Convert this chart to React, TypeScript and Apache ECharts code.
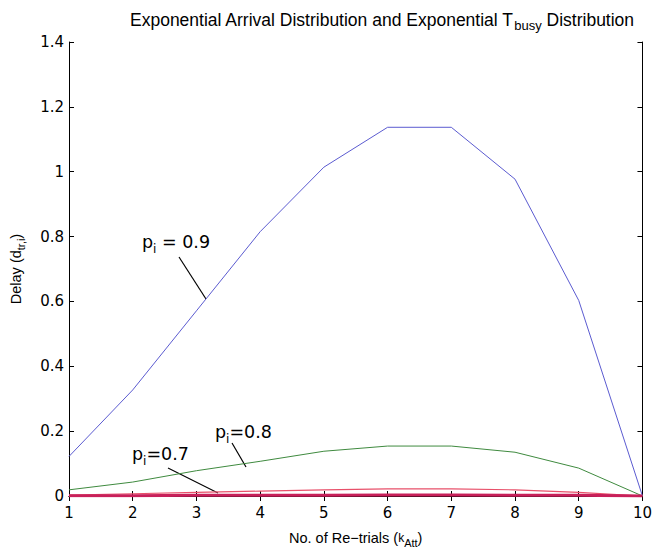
import { useEffect, useRef } from "react";
import * as echarts from "echarts";

const retrials = [1, 2, 3, 4, 5, 6, 7, 8, 9, 10];
const delayP09 = [0.122, 0.327, 0.571, 0.815, 1.014, 1.137, 1.137, 0.977, 0.603, 0];
const delayP08 = [0.019, 0.043, 0.078, 0.107, 0.138, 0.154, 0.154, 0.135, 0.086, 0];
const delayP07 = [0.003, 0.007, 0.011, 0.015, 0.019, 0.022, 0.022, 0.019, 0.011, 0];
const delayP06 = [0.001, 0.001, 0.002, 0.002, 0.002, 0.003, 0.003, 0.002, 0.002, 0];

const FONT = "Liberation Sans, Arial, sans-serif";
const LFONT = "DejaVu Sans, sans-serif";

const pairs = (ys: number[]) => retrials.map((x, i) => [x, ys[i]]);

export default function App() {
  const ref = useRef<HTMLDivElement>(null);
  useEffect(() => {
    if (!ref.current) return;
    const chart = echarts.init(ref.current, undefined, { renderer: "svg" });
    const axisLine = { show: true, lineStyle: { color: "#000", width: 1 } };
    const tick = { show: true, inside: true, length: 5, lineStyle: { color: "#000" } };
    const subStyle = { fontSize: 11, padding: [10, 0, 0, 0], fontFamily: FONT, color: "#000" };
    const titleSub = { fontSize: 13, padding: [11, 0, 0, 0], fontFamily: FONT, color: "#000" };
    const lblSub = { fontSize: 12, padding: [13, 0, 0, 0], fontFamily: LFONT, color: "#000" };
    chart.setOption({
      animation: false,
      backgroundColor: "#fff",
      title: {
        text: "Exponential Arrival Distribution and Exponential T{sub|busy} Distribution",
        left: 125,
        top: 3,
        textStyle: {
          fontFamily: FONT,
          fontSize: 17.5,
          fontWeight: "normal",
          color: "#000",
          rich: { sub: titleSub },
        },
      },
      grid: { left: 65, right: 9, top: 42, bottom: 54, containLabel: false },
      xAxis: [
        {
          type: "value",
          min: 1,
          max: 10,
          interval: 1,
          axisLine,
          axisTick: tick,
          splitLine: { show: false },
          axisLabel: { fontFamily: LFONT, fontSize: 15, color: "#000", margin: 9 },
          name: "No. of Re\u2212trials ({k|k}{sub|Att})",
          nameLocation: "middle",
          nameGap: 31,
          nameTextStyle: {
            fontFamily: FONT,
            fontSize: 14.5,
            color: "#000",
            rich: { k: { fontSize: 12, fontFamily: FONT, color: "#000" }, sub: subStyle },
          },
        },
        {
          type: "value",
          position: "top",
          min: 1,
          max: 10,
          interval: 1,
          axisLine,
          axisTick: tick,
          axisLabel: { show: false },
          splitLine: { show: false },
        },
      ],
      yAxis: [
        {
          type: "value",
          min: 0,
          max: 1.4,
          interval: 0.2,
          axisLine,
          axisTick: tick,
          splitLine: { show: false },
          axisLabel: { fontFamily: LFONT, fontSize: 15, color: "#000", margin: 5 },
          name: "Delay (d{sub|tr,i})",
          nameLocation: "middle",
          nameGap: 43,
          nameTextStyle: {
            fontFamily: FONT,
            fontSize: 14.5,
            color: "#000",
            rich: { sub: subStyle },
          },
        },
        {
          type: "value",
          position: "right",
          min: 0,
          max: 1.4,
          interval: 0.2,
          axisLine,
          axisTick: tick,
          axisLabel: { show: false },
          splitLine: { show: false },
        },
      ],
      series: [
        {
          name: "p=0.9",
          type: "line",
          data: pairs(delayP09),
          symbol: "none",
          lineStyle: { color: "#5b5bd0", width: 1 },
        },
        {
          name: "p=0.8",
          type: "line",
          data: pairs(delayP08),
          symbol: "none",
          lineStyle: { color: "#3f8a3f", width: 1 },
        },
        {
          name: "p=0.7",
          type: "line",
          data: pairs(delayP07),
          symbol: "none",
          lineStyle: { color: "#e8506a", width: 1.2 },
        },
        {
          name: "p=0.6",
          type: "line",
          data: pairs(delayP06),
          symbol: "none",
          lineStyle: { color: "#c8205a", width: 3 },
        },
      ],
      graphic: [
        {
          type: "text",
          x: 142,
          y: 242,
          style: {
            text: "p{s|i} = 0.9",
            verticalAlign: "middle",
            fill: "#000",
            rich: { s: lblSub },
            fontSize: 17.5,
            fontFamily: LFONT,
          },
        },
        { type: "line", shape: { x1: 179, y1: 257, x2: 206, y2: 299 }, style: { stroke: "#000", lineWidth: 1.2 } },
        {
          type: "text",
          x: 215,
          y: 432,
          style: {
            text: "p{s|i}=0.8",
            verticalAlign: "middle",
            fill: "#000",
            rich: { s: lblSub },
            fontSize: 17.5,
            fontFamily: LFONT,
          },
        },
        { type: "line", shape: { x1: 232, y1: 443, x2: 246, y2: 467 }, style: { stroke: "#000", lineWidth: 1.2 } },
        {
          type: "text",
          x: 132,
          y: 454,
          style: {
            text: "p{s|i}=0.7",
            verticalAlign: "middle",
            fill: "#000",
            rich: { s: lblSub },
            fontSize: 17.5,
            fontFamily: LFONT,
          },
        },
        { type: "line", shape: { x1: 168, y1: 468, x2: 218, y2: 493 }, style: { stroke: "#000", lineWidth: 1.2 } },
      ],
    });
    return () => chart.dispose();
  }, []);
  return <div ref={ref} style={{ width: 655, height: 553, position: "absolute", left: 0, top: 0 }} />;
}
